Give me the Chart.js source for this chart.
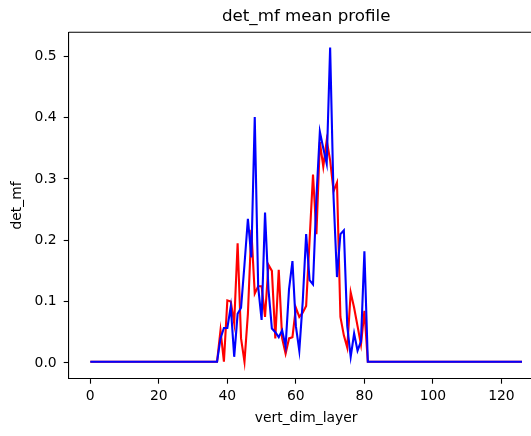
<!DOCTYPE html>
<html>
<head>
<meta charset="utf-8">
<script src="https://cdn.jsdelivr.net/npm/chart.js@4.4.0/dist/chart.umd.min.js"></script>
<style>
  html, body { margin: 0; padding: 0; background: #fff; overflow: hidden; width: 531px; height: 436px; }
  #wrap { position: absolute; left: 0; top: 0; width: 550px; height: 436px; }
</style>
</head>
<body>
<div id="wrap"><canvas id="c" width="550" height="436"></canvas></div>
<script>
const layers = Array.from({length: 127}, (_, i) => i);

const redValues = [
  0.002,0.002,0.002,0.002,0.002,0.002,0.002,0.002,0.002,0.002,
  0.002,0.002,0.002,0.002,0.002,0.002,0.002,0.002,0.002,0.002,
  0.002,0.002,0.002,0.002,0.002,0.002,0.002,0.002,0.002,0.002,
  0.002,0.002,0.002,0.002,0.002,0.002,0.002,0.002,0.053,0.002,
  0.102,0.100,0.065,0.195,0.040,0.002,0.080,0.217,0.113,0.125,
  0.125,0.075,0.160,0.150,0.040,0.152,0.040,0.015,0.040,0.042,
  0.090,0.075,0.082,0.093,0.200,0.307,0.210,0.360,0.320,0.363,
  0.330,0.280,0.294,0.075,0.045,0.025,0.115,0.090,0.060,0.030,
  0.085,0.002,0.002,0.002,0.002,0.002,0.002,0.002,0.002,0.002,
  0.002,0.002,0.002,0.002,0.002,0.002,0.002,0.002,0.002,0.002,
  0.002,0.002,0.002,0.002,0.002,0.002,0.002,0.002,0.002,0.002,
  0.002,0.002,0.002,0.002,0.002,0.002,0.002,0.002,0.002,0.002,
  0.002,0.002,0.002,0.002,0.002,0.002,0.002
];

const blueValues = [
  0.002,0.002,0.002,0.002,0.002,0.002,0.002,0.002,0.002,0.002,
  0.002,0.002,0.002,0.002,0.002,0.002,0.002,0.002,0.002,0.002,
  0.002,0.002,0.002,0.002,0.002,0.002,0.002,0.002,0.002,0.002,
  0.002,0.002,0.002,0.002,0.002,0.002,0.002,0.002,0.040,0.057,
  0.057,0.092,0.010,0.080,0.090,0.160,0.235,0.172,0.401,0.124,
  0.070,0.245,0.120,0.056,0.050,0.042,0.053,0.027,0.120,0.166,
  0.060,0.020,0.100,0.210,0.135,0.128,0.270,0.377,0.350,0.325,
  0.514,0.270,0.140,0.210,0.216,0.060,0.010,0.048,0.020,0.035,
  0.182,0.002,0.002,0.002,0.002,0.002,0.002,0.002,0.002,0.002,
  0.002,0.002,0.002,0.002,0.002,0.002,0.002,0.002,0.002,0.002,
  0.002,0.002,0.002,0.002,0.002,0.002,0.002,0.002,0.002,0.002,
  0.002,0.002,0.002,0.002,0.002,0.002,0.002,0.002,0.002,0.002,
  0.002,0.002,0.002,0.002,0.002,0.002,0.002
];

const xTicks = [0, 20, 40, 60, 80, 100, 120];
const yTicks = [0.0, 0.1, 0.2, 0.3, 0.4, 0.5];

const titleText = 'det_mf mean profile';
const xLabel = 'vert_dim_layer';
const yLabel = 'det_mf';

const FONT = "'DejaVu Sans', sans-serif";

const textPlugin = {
  id: 'texts',
  afterDraw(chart) {
    const ctx = chart.ctx;
    const a = chart.chartArea;
    ctx.save();
    // top spine
    ctx.strokeStyle = '#000';
    ctx.lineWidth = 1.1;
    ctx.beginPath();
    ctx.moveTo(a.left, a.top);
    ctx.lineTo(a.right + 10, a.top);
    ctx.stroke();
    ctx.fillStyle = '#000';
    ctx.textAlign = 'center';
    ctx.textBaseline = 'middle';
    const cx = (a.left + a.right) / 2;
    ctx.font = '16.7px ' + FONT;
    ctx.fillText(titleText, cx, 17);
    ctx.font = '13.9px ' + FONT;
    ctx.fillText(xLabel, cx, 418);
    ctx.translate(17, (a.top + a.bottom) / 2);
    ctx.rotate(-Math.PI / 2);
    ctx.fillText(yLabel, 0, 0);
    ctx.restore();
  }
};

new Chart(document.getElementById('c'), {
  type: 'line',
  data: {
    datasets: [
      {
        label: 'blue',
        data: layers.map((x, i) => ({x: x, y: blueValues[i]})),
        borderColor: '#0000ff',
        borderWidth: 2.1,
        pointRadius: 0,
        tension: 0,
        fill: false
      },
      {
        label: 'red',
        data: layers.map((x, i) => ({x: x, y: redValues[i]})),
        borderColor: '#ff0000',
        borderWidth: 2.1,
        pointRadius: 0,
        tension: 0,
        fill: false
      }
    ]
  },
  options: {
    responsive: false,
    animation: false,
    layout: { padding: { top: 32.3, right: 6.4, left: 0, bottom: 0 } },
    plugins: { legend: { display: false }, tooltip: { enabled: false }, title: { display: false } },
    scales: {
      x: {
        type: 'linear',
        min: -6.3,
        max: 132.3,
        afterBuildTicks: s => { s.ticks = xTicks.map(v => ({value: v})); },
        afterFit: s => { s.height = 436 - 378.7; },
        ticks: {
          color: '#000',
          font: { family: FONT, size: 13.9 },
          padding: 4,
          maxRotation: 0,
          callback: v => String(v)
        },
        grid: { display: true, drawOnChartArea: false, drawTicks: true, tickLength: 5, tickColor: '#000', tickWidth: 1.1 },
        border: { display: true, color: '#000', width: 1.1 }
      },
      y: {
        type: 'linear',
        min: -0.0257,
        max: 0.539,
        afterBuildTicks: s => { s.ticks = yTicks.map(v => ({value: v})); },
        afterFit: s => { s.width = 68.7; },
        ticks: {
          color: '#000',
          font: { family: FONT, size: 13.9 },
          padding: 7,
          callback: v => Number(v).toFixed(1)
        },
        grid: { display: true, drawOnChartArea: false, drawTicks: true, tickLength: 5, tickColor: '#000', tickWidth: 1.1 },
        border: { display: true, color: '#000', width: 1.1 }
      }
    }
  },
  plugins: [textPlugin]
});
</script>
</body>
</html>
